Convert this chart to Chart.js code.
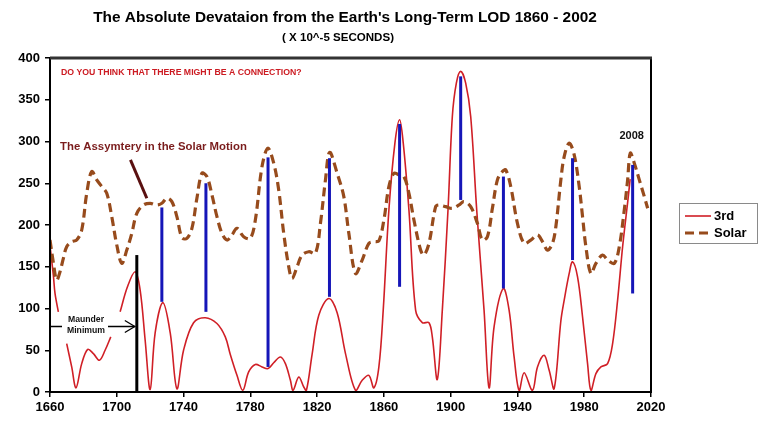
<!DOCTYPE html>
<html><head><meta charset="utf-8">
<script src="https://cdn.jsdelivr.net/npm/chart.js@4/dist/chart.umd.min.js"></script>
<style>html,body{margin:0;padding:0;background:#fff;}#wrap{width:758px;height:422px;position:relative;}</style>
</head><body><div id="wrap"><canvas id="c" width="758" height="422"></canvas></div>
<script>
const titleText = "The Absolute Devataion from the Earth's Long-Term LOD 1860 - 2002";
const subtitleText = "( X 10^-5 SECONDS)";
const questionText = "DO YOU THINK THAT THERE MIGHT BE A CONNECTION?";
const asymText = "The Assymtery in the Solar Motion";
const maunderLines = ["Maunder", "Minimum"];
const yearNote = "2008";
const seriesNames = ["3rd", "Solar"];
const xTicks = [1660, 1700, 1740, 1780, 1820, 1860, 1900, 1940, 1980, 2020];
const yTicks = [0, 50, 100, 150, 200, 250, 300, 350, 400];

const thirdYears = [1660,1662,1663,1665,1667.5,1670,1673,1675.6,1679,1682.6,1686,1689.6,1693,1696.4,1699,
  1702,1706.4,1711,1714,1717,1720,1723,1727.6,1732,1736,1740,1746,1753,1760,1765,1768,1772,1775.5,1779,
  1783,1787,1790.6,1794,1798,1801,1804,1805.6,1809,1812,1813.6,1817,1821,1827,1832,1837,1843,1847,1851,
  1854,1857,1859.6,1863,1866.6,1869.4,1871.6,1875,1879,1883,1887,1889,1892,1895,1898.4,1901,1903.4,1906,
  1909,1912,1915.6,1920,1923,1926,1931.5,1935,1938,1941,1944,1949,1952,1956,1959,1962,1966,1968,1971,
  1973,1976,1979,1982,1984,1987,1990,1994,1997,2000,2003,2006.4,2007.5];
const thirdValues = [175,140,118,96,null,58,30,5,34,51,46,38,50,66,null,
  96,126,144,122,62,3,71,107,71,4,50,83,89,82,66,45,20,2,24,
  33,30,28,35,42,34,14,2,18,6,2,45,92,112,95,46,2,14,20,
  5,30,98,218,298,326,298,218,98,83,83,66,15,98,218,330,370,384,
  370,330,218,98,5,78,124,98,42,2,23,2,30,44,26,4,85,110,142,
  156,138,90,34,2,22,30,34,58,110,174,234,255];

const solarYears = [1660,1662,1664,1666,1668,1670,1673,1676,1679,1682,1685,1688,1691,1694,1697,1700,1703,
  1706,1709,1712,1716,1720,1724,1727,1730,1733,1736,1739,1742,1745,1748,1751,1754,1757,1760,1763,1766,
  1769,1772,1776,1780,1783,1787,1790.5,1794,1797,1800,1803,1805,1808,1811,1815,1819,1822,1825,1827.5,
  1832,1836,1839,1843,1847,1851,1854,1857,1860,1863,1866,1869,1872,1875,1878,1882,1884,1887,1891,1893,
  1897,1901,1905,1908,1912,1916,1919,1922,1925,1928,1931,1933,1936,1940,1944,1948,1952,1955,1958,1961,
  1963,1966,1968,1971,1974,1977,1979,1981,1984,1987,1991,1994,1998,2001,2004,2006,2007.6,2010,2013,
  2016,2018];
const solarValues = [182,155,134,144,160,174,180,182,194,238,264,254,246,238,210,176,154,
  170,190,214,224,226,224,226,232,228,210,185,184,196,232,262,258,236,210,190,182,
  188,196,186,184,206,270,292,274,242,190,150,136,150,164,168,166,202,254,287,
  262,234,190,142,158,178,180,181,206,246,262,260,258,238,206,170,164,178,222,224,
  222,220,224,228,222,202,182,186,220,254,264,266,246,202,178,182,188,180,170,178,
  198,254,282,298,284,246,210,174,142,154,164,158,154,174,218,254,286,274,254,
  234,220];

const markYears = [1727, 1753.4, 1790.6, 1827.4, 1869.4, 1906, 1931.6, 1973, 2009];
const markTops = [221, 250, 281, 280, 321, 378, 258, 280, 272];
const markBottoms = [108, 96, 30, 114, 126, 230, 124, 158, 118];
const maunderYear = 1712, maunderTop = 164, maunderArrowValue = 79;
const pointerYears = [1708.2, 1718];
const pointerValues = [278, 232];
const yearNoteAt = [2009, 307];

const FAMILY = "Arial, 'Liberation Sans', sans-serif";
const RED = '#d01f26', BROWN = '#974b1c', BLUE = '#1616b8';

function fitFont(ctx, text, weight, targetW){
  ctx.font = weight + ' 20px ' + FAMILY;
  const w = ctx.measureText(text).width;
  const s = 20 * targetW / w;
  ctx.font = weight + ' ' + s.toFixed(2) + 'px ' + FAMILY;
}

const overlay = {
  id: 'overlay',
  afterDatasetsDraw(chart){
    const ctx = chart.ctx, xs = chart.scales.x, ys = chart.scales.y, a = chart.chartArea;
    const X = v => xs.getPixelForValue(v), Y = v => ys.getPixelForValue(v);
    ctx.save();
    // blue marks
    ctx.strokeStyle = BLUE; ctx.lineWidth = 3; ctx.lineCap = 'butt';
    markYears.forEach((yr, i) => {
      ctx.beginPath(); ctx.moveTo(X(yr), Y(markTops[i])); ctx.lineTo(X(yr), Y(markBottoms[i])); ctx.stroke();
    });
    // maunder black line
    ctx.strokeStyle = '#000'; ctx.lineWidth = 3;
    ctx.beginPath(); ctx.moveTo(X(maunderYear), Y(maunderTop)); ctx.lineTo(X(maunderYear), Y(0)); ctx.stroke();
    // arrow
    const ay = Math.round(Y(maunderArrowValue)) + 0.5, ax = X(maunderYear) - 2;
    ctx.lineWidth = 1.3;
    ctx.beginPath(); ctx.moveTo(a.left, ay); ctx.lineTo(ax, ay); ctx.stroke();
    ctx.beginPath(); ctx.moveTo(ax - 10, ay - 6); ctx.lineTo(ax, ay); ctx.lineTo(ax - 10, ay + 6); ctx.stroke();
    // text box for maunder
    ctx.fillStyle = '#fff';
    ctx.fillRect(62, 314, 46, 23);
    ctx.fillStyle = '#111';
    fitFont(ctx, maunderLines[1], 'bold', 38);
    ctx.textAlign = 'center'; ctx.textBaseline = 'middle';
    ctx.fillText(maunderLines[0], 86, 320);
    ctx.fillText(maunderLines[1], 86, 331);
    // pointer line
    ctx.strokeStyle = '#5a1010'; ctx.lineWidth = 3;
    ctx.beginPath(); ctx.moveTo(X(pointerYears[0]), Y(pointerValues[0])); ctx.lineTo(X(pointerYears[1]), Y(pointerValues[1])); ctx.stroke();
    // annotation texts
    ctx.textAlign = 'left';
    ctx.fillStyle = '#cc1b22';
    fitFont(ctx, questionText, 'bold', 241);
    ctx.fillText(questionText, 61, 73);
    ctx.fillStyle = '#7a1c1c';
    fitFont(ctx, asymText, 'bold', 187);
    ctx.fillText(asymText, 60, 147);
    ctx.fillStyle = '#111'; ctx.textAlign = 'center';
    ctx.font = 'bold 11px ' + FAMILY;
    ctx.fillText(yearNote, X(yearNoteAt[0]) - 1, Y(yearNoteAt[1]));
    // frame
    ctx.strokeStyle = '#000'; ctx.lineWidth = 2;
    ctx.strokeRect(a.left, a.top, a.right - a.left, a.bottom - a.top);
    ctx.strokeStyle = '#333'; ctx.lineWidth = 3;
    ctx.beginPath(); ctx.moveTo(a.left, a.top); ctx.lineTo(a.right + 1, a.top); ctx.stroke();
    // title
    ctx.fillStyle = '#000';
    fitFont(ctx, titleText, 'bold', 504);
    ctx.fillText(titleText, 345, 18);
    fitFont(ctx, subtitleText, 'bold', 112);
    ctx.fillText(subtitleText, 338, 38);
    // legend
    ctx.strokeStyle = '#8a8a8a'; ctx.lineWidth = 1;
    ctx.strokeRect(679.5, 203.5, 78, 40);
    ctx.strokeStyle = RED; ctx.lineWidth = 1.6;
    ctx.beginPath(); ctx.moveTo(685, 216); ctx.lineTo(711, 216); ctx.stroke();
    ctx.strokeStyle = BROWN; ctx.lineWidth = 3; ctx.setLineDash([9, 5]);
    ctx.beginPath(); ctx.moveTo(685, 233); ctx.lineTo(712, 233); ctx.stroke();
    ctx.setLineDash([]);
    ctx.fillStyle = '#000'; ctx.textAlign = 'left'; ctx.font = 'bold 13px ' + FAMILY;
    ctx.fillText(chart.data.datasets[0].label, 714, 216);
    ctx.fillText(chart.data.datasets[1].label, 714, 233);
    ctx.restore();
  }
};

new Chart(document.getElementById('c'), {
  type: 'line',
  data: {
    datasets: [
      { label: seriesNames[0], data: thirdYears.map((x, i) => ({x, y: thirdValues[i]})),
        borderColor: RED, borderWidth: 1.6, pointRadius: 0, tension: 0.35, spanGaps: false, order: 2 },
      { label: seriesNames[1], data: solarYears.map((x, i) => ({x, y: solarValues[i]})),
        borderColor: BROWN, borderWidth: 3.2, borderDash: [9, 5], pointRadius: 0, tension: 0.35, order: 1 }
    ]
  },
  options: {
    responsive: false, animation: false, devicePixelRatio: 1,
    layout: { padding: { top: 58, right: 107, left: 0, bottom: 0 } },
    plugins: { legend: { display: false }, tooltip: { enabled: false } },
    scales: {
      x: { type: 'linear', min: xTicks[0], max: xTicks[xTicks.length - 1],
        afterBuildTicks: s => { s.ticks = xTicks.map(v => ({value: v})); },
        afterFit: s => { s.height = 30; },
        grid: { drawOnChartArea: false, drawTicks: true, tickLength: 5, color: '#000', lineWidth: 1.5 },
        border: { display: true, color: '#000', width: 2 },
        ticks: { color: '#000', font: { family: FAMILY, size: 13, weight: 'bold' }, padding: 3,
          maxRotation: 0, callback: v => String(v) } },
      y: { type: 'linear', min: yTicks[0], max: yTicks[yTicks.length - 1],
        afterBuildTicks: s => { s.ticks = yTicks.map(v => ({value: v})); },
        afterFit: s => { s.width = 50; },
        grid: { drawOnChartArea: false, drawTicks: true, tickLength: 5, color: '#000', lineWidth: 1.5 },
        border: { display: true, color: '#000', width: 2 },
        ticks: { color: '#000', font: { family: FAMILY, size: 13, weight: 'bold' }, padding: 5,
          callback: v => String(v) } }
    }
  },
  plugins: [overlay]
});
</script></body></html>
